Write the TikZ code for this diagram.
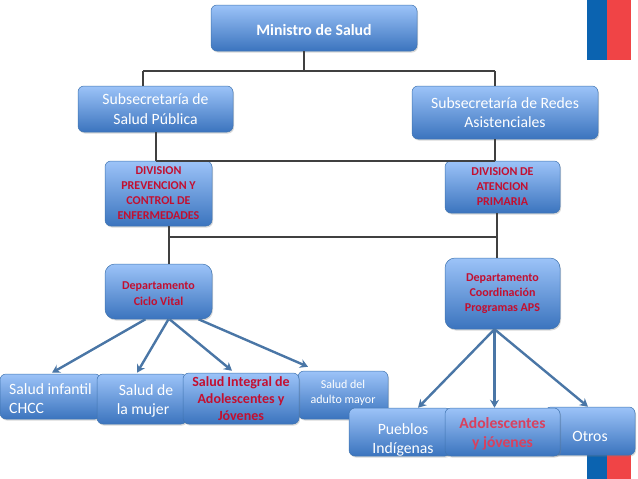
\documentclass[tikz,border=0pt]{standalone}
\usepackage{fontspec}
\setmainfont{Carlito}
\usetikzlibrary{arrows.meta,shadows}
\definecolor{cajaclara}{HTML}{9CC3F8}
\definecolor{cajaoscura}{HTML}{3B74BE}
\definecolor{cajaborde}{HTML}{3F74B0}
\definecolor{rojotexto}{HTML}{C30F30}
\definecolor{rojosuave}{HTML}{D9405E}
\definecolor{lineaazul}{HTML}{4A76A6}
\definecolor{lineagris}{HTML}{404040}
\definecolor{banderaazul}{HTML}{0B63B0}
\definecolor{banderaroja}{HTML}{F04446}
\newcommand{\baja}[1]{\\[#1]\mbox{}}
\tikzset{
  caja/.style={draw=cajaborde,line width=0.5pt,rounded corners=6pt,top color=cajaclara,bottom color=cajaoscura,
    drop shadow={opacity=0.3,shadow xshift=1pt,shadow yshift=-1.5pt},
    inner sep=0pt,text=white,align=center,font=\fontsize{15.7}{19.5}\selectfont},
  rojo/.style={text=rojotexto,font=\fontsize{12}{15}\selectfont\bfseries},
  trazo/.style={draw=lineagris,line width=1.6pt},
  flecha/.style={draw=lineaazul,line width=2.4pt,-{Stealth[length=8pt,width=9pt]}}
}
\begin{document}
\begin{tikzpicture}[x=1pt,y=-1pt]
    \useasboundingbox (0,0) rectangle (638,479);

    % Bandera
    \fill[banderaazul] (587,0) rectangle (607,60);
    \fill[banderaroja] (607,0) rectangle (631,60);
    \fill[banderaazul] (587,455) rectangle (607,479);
    \fill[banderaroja] (607,455) rectangle (631,479);

    % Barras de union
    \coordinate (barraA) at (143,71);
    \coordinate (barraB) at (304,71);
    \coordinate (barraC) at (495,71);
    \coordinate (barraD) at (156,161);
    \coordinate (barraE) at (495,161);
    \coordinate (barraF) at (169,237);
    \coordinate (barraG) at (497,237);

    % Cajas superiores
    \node[caja,minimum width=206pt,minimum height=46pt,font=\fontsize{15.8}{18}\selectfont\bfseries] (ministro) at (314,28) {Ministro de Salud\baja{-22pt}};
    \node[caja,minimum width=155pt,minimum height=46pt] (subUno) at (155.5,109) {Subsecretaría de\\Salud Pública};
    \node[caja,minimum width=186pt,minimum height=53pt] (subDos) at (505,112.5) {Subsecretaría de Redes\\Asistenciales};

    % Divisiones
    \node[caja,rojo,minimum width=107pt,minimum height=65pt] (divUno) at (158.5,193.5) {DIVISION\\PREVENCION Y\\CONTROL DE\\ENFERMEDADES};
    \node[caja,rojo,minimum width=115pt,minimum height=52pt] (divDos) at (502.5,187) {DIVISION DE\\ATENCION\\PRIMARIA};

    % Departamentos
    \node[caja,rojo,rounded corners=10pt,minimum width=107pt,minimum height=55pt,font=\fontsize{12}{16}\selectfont\bfseries] (depUno) at (158.5,291.5) {Departamento\\Ciclo Vital\baja{-21pt}};
    \node[caja,rojo,rounded corners=10pt,minimum width=115pt,minimum height=71pt] (depDos) at (502.5,293.5) {Departamento\\Coordinación\\Programas APS};

    % Cajas inferiores izquierda
    \node[caja,align=left,minimum width=101pt,minimum height=45pt] (infantil) at (50.5,396.5) {Salud infantil\\CHCC\baja{-23.5pt}};
    \node[caja,align=left,minimum width=90pt,minimum height=50pt] (mujer) at (142,399) {\hspace*{8pt}Salud de\\\hspace*{6pt}la mujer\baja{-20.5pt}};
    \node[caja,minimum width=90pt,minimum height=48pt,font=\fontsize{12}{15}\selectfont] (adulto) at (343,395) {Salud del\\adulto mayor\baja{-9pt}};
    \node[caja,rojo,minimum width=116pt,minimum height=51pt,font=\fontsize{14}{17}\selectfont\bfseries] (integral) at (241,398.5) {Salud Integral de\\Adolescentes y\\Jóvenes};

    % Cajas inferiores derecha
    \node[caja,minimum width=102pt,minimum height=48pt] (pueblos) at (400,432) {\hspace*{6pt}Pueblos\\\hspace*{6pt}Indígenas\baja{-32.5pt}};
    \node[caja,minimum width=90pt,minimum height=48pt] (otros) at (590,431) {Otros\baja{-29.5pt}};
    \node[caja,minimum width=115pt,minimum height=48pt,text=rojosuave,font=\fontsize{15.6}{19}\selectfont\bfseries] (adolescentes) at (502.5,432) {Adolescentes\\y jóvenes\baja{-20pt}};

    % Lineas grises
    \draw[trazo] (barraA) -- (barraC);
    \draw[trazo] (barraB |- ministro.south) -- (barraB);
    \draw[trazo] (barraA) -- (barraA |- subUno.north);
    \draw[trazo] (barraC) -- (barraC |- subDos.north);
    \draw[trazo] (barraD |- subUno.south) -- (barraD);
    \draw[trazo] (barraE |- subDos.south) -- (barraE);
    \draw[trazo,line width=1.2pt] (barraD) -- (barraE);
    \draw[trazo] (barraF |- divUno.south) -- (barraF |- depUno.north);
    \draw[trazo] (barraG |- divDos.south) -- (barraG |- depDos.north);
    \draw[trazo] (barraF) -- (barraG);

    % Flechas departamento izquierda
    \draw[flecha] ([xshift=-13pt]depUno.south) -- ([xshift=1.5pt,yshift=1pt]infantil.north);
    \draw[flecha] ([xshift=10pt]depUno.south) -- ([xshift=-5pt,yshift=1pt]mujer.north);
    \draw[flecha] ([xshift=11pt]depUno.south) -- ([xshift=-9pt,yshift=2pt]integral.north);
    \draw[flecha] ([xshift=40pt]depUno.south) -- ([xshift=-35pt,yshift=4pt]adulto.north);

    % Flechas departamento derecha
    \draw[flecha] ([xshift=-8pt]depDos.south) -- ([xshift=18pt]pueblos.north);
    \draw[flecha] ([xshift=-8pt]depDos.south) -- ([xshift=-8pt]adolescentes.north);
    \draw[flecha] ([xshift=-8pt]depDos.south) -- ([xshift=-2pt]otros.north);
\end{tikzpicture}
\end{document}
